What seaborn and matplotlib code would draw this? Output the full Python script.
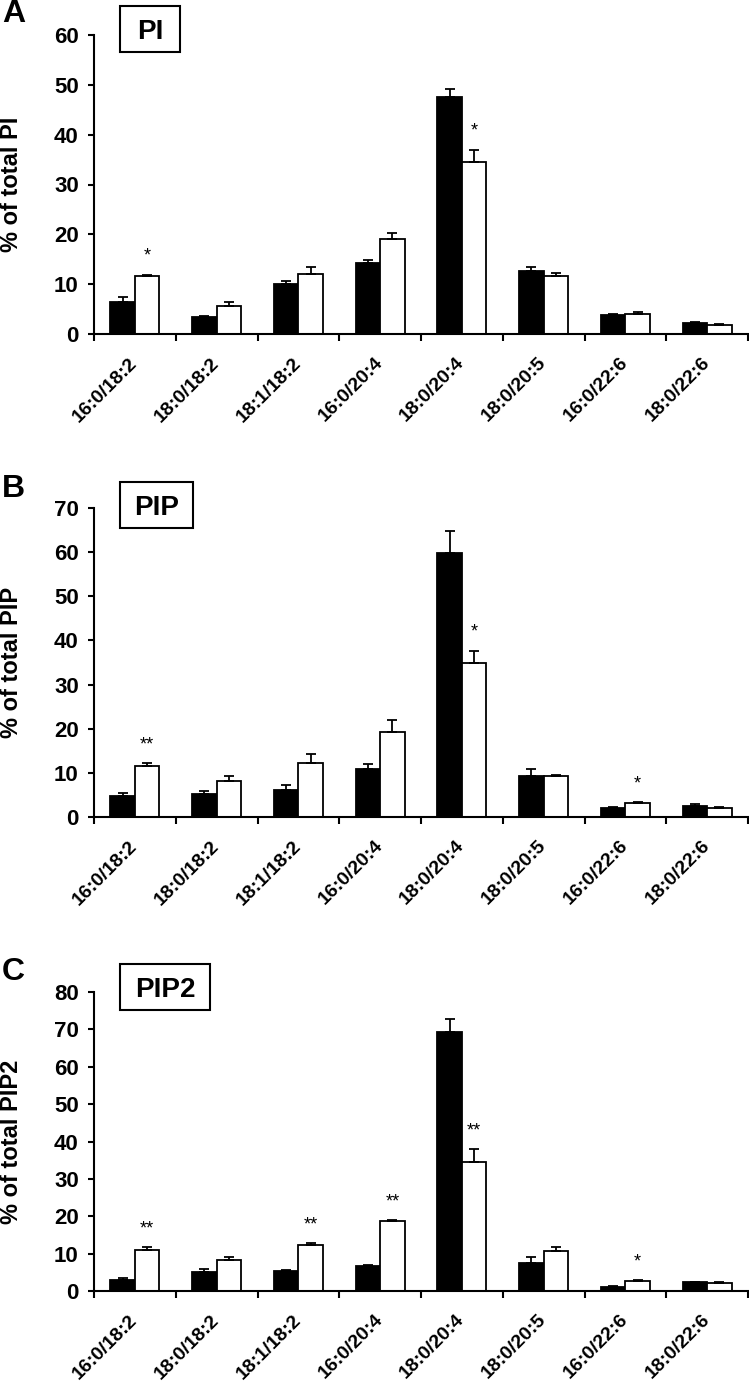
import numpy as np
import pandas as pd
import matplotlib
matplotlib.use('Agg')
import matplotlib.pyplot as plt
from matplotlib.patches import Rectangle
import seaborn as sns

# categorias (espécies moleculares)
especies = ['16:0/18:2', '18:0/18:2', '18:1/18:2', '16:0/20:4',
            '18:0/20:4', '18:0/20:5', '16:0/22:6', '18:0/22:6']

# Painel A - PI
pi_preto = [6.5, 3.5, 10.0, 14.2, 47.5, 12.7, 3.9, 2.2]
pi_preto_err = [1.0, 0.2, 0.7, 0.7, 1.7, 0.7, 0.2, 0.2]
pi_branco = [11.6, 5.7, 12.0, 19.1, 34.6, 11.6, 4.0, 1.8]
pi_branco_err = [0.3, 0.8, 1.5, 1.1, 2.4, 0.7, 0.5, 0.3]
pi_sig = ['*', '', '', '', '*', '', '', '']

# Painel B - PIP
pip_preto = [4.8, 5.2, 6.2, 10.9, 59.8, 9.2, 2.0, 2.6]
pip_preto_err = [0.6, 0.7, 1.1, 1.2, 4.9, 1.6, 0.3, 0.4]
pip_branco = [11.5, 8.2, 12.2, 19.2, 35.0, 9.2, 3.1, 2.1]
pip_branco_err = [0.7, 1.2, 2.1, 2.7, 2.7, 0.3, 0.2, 0.2]
pip_sig = ['**', '', '', '', '*', '', '*', '']

# Painel C - PIP2
pip2_preto = [3.0, 5.1, 5.3, 6.8, 69.3, 7.5, 1.2, 2.3]
pip2_preto_err = [0.5, 0.7, 0.4, 0.1, 3.4, 1.5, 0.2, 0.2]
pip2_branco = [10.9, 8.3, 12.3, 18.6, 34.6, 10.6, 2.7, 2.2]
pip2_branco_err = [0.9, 0.9, 0.6, 0.3, 3.4, 1.3, 0.3, 0.1]
pip2_sig = ['**', '', '**', '**', '**', '', '*', '']

paineis = [
    ('A', 'PI', 60, pi_preto, pi_preto_err, pi_branco, pi_branco_err, pi_sig),
    ('B', 'PIP', 70, pip_preto, pip_preto_err, pip_branco, pip_branco_err, pip_sig),
    ('C', 'PIP2', 80, pip2_preto, pip2_preto_err, pip2_branco, pip2_branco_err, pip2_sig),
]

sns.set_style('ticks')
plt.rcParams['font.family'] = ['Liberation Sans', 'DejaVu Sans']
for k in ['text.color', 'axes.labelcolor', 'xtick.color', 'ytick.color', 'axes.edgecolor']:
    plt.rcParams[k] = 'black'

W, H = 749, 1383
fig = plt.figure(figsize=(W / 100, H / 100), dpi=100)

# posições dos eixos em pixels (topo, zero)
posicoes = [(35, 334), (508, 817), (992, 1291)]
caixas = [(6, 52, 60), (482, 528, 73), (964, 1010, 90)]
letras_y = [14, 489, 972]

for i, (letra, nome, ymax, preto, preto_err, branco, branco_err, sig) in enumerate(paineis):
    topo, zero = posicoes[i]
    ax = fig.add_axes([94 / W, 1 - zero / H, (748 - 94) / W, (zero - topo) / H])

    df = pd.DataFrame({
        'especie': especies * 2,
        'valor': preto + branco,
        'grupo': ['controle'] * 8 + ['tratado'] * 8,
    })
    sns.barplot(data=df, x='especie', y='valor', hue='grupo',
                palette=['black', 'white'], edgecolor='black', linewidth=1.3,
                width=0.6, errorbar=None, legend=False, ax=ax)

    erros = preto_err + branco_err
    barras = ax.patches[:16]
    xs = [b.get_x() + b.get_width() / 2 for b in barras]
    ys = [b.get_height() for b in barras]
    ax.errorbar(xs, ys, yerr=[np.zeros(16), erros], fmt='none', ecolor='black',
                elinewidth=1.3, capsize=3.5, capthick=1.3, zorder=3)

    # asteriscos de significância
    for j, s in enumerate(sig):
        if s:
            ax.annotate(s, (xs[8 + j], ys[8 + j] + erros[8 + j]), xytext=(0, 7),
                        textcoords='offset points', ha='center', va='bottom',
                        fontsize=13)

    ax.set_xlim(-0.5, 7.5)
    ax.set_ylim(0, ymax)
    ax.set_yticks(np.arange(0, ymax + 1, 10))
    ax.set_xticks(range(8))
    ax.set_xticklabels(especies, rotation=45, ha='right', va='center',
                       rotation_mode='anchor', fontsize=14, fontweight='bold')
    ax.set_xticks(np.arange(-0.5, 8, 1), minor=True)
    ax.tick_params(axis='x', which='major', length=0, pad=19)
    ax.tick_params(axis='x', which='minor', length=5, width=1.5, direction='out')
    ax.tick_params(axis='y', length=4, width=1.5, labelsize=16, pad=7)
    for t in ax.get_yticklabels():
        t.set_fontweight('bold')
    ax.set_xlabel('')
    ax.set_ylabel('')
    sns.despine(ax=ax)
    for lado in ['left', 'bottom']:
        ax.spines[lado].set_linewidth(1.5)

    fig.text(12 / W, 1 - (topo + zero) / 2 / H, '% of total ' + nome, rotation=90,
             ha='center', va='center', fontsize=17, fontweight='bold')

    # caixa com o nome do lipídio
    y0, y1, largura = caixas[i]
    fig.add_artist(Rectangle((120 / W, 1 - y1 / H), largura / W, (y1 - y0) / H,
                             transform=fig.transFigure, fc='white', ec='black', lw=1.5))
    fig.text((120 + largura / 2) / W, 1 - (y0 + y1) / 2 / H, nome, ha='center', va='center_baseline',
             fontsize=20, fontweight='bold')
    fig.text(2 / W, 1 - letras_y[i] / H, letra, ha='left', va='center',
             fontsize=23, fontweight='bold')

fig.savefig('out.png', dpi=100)
